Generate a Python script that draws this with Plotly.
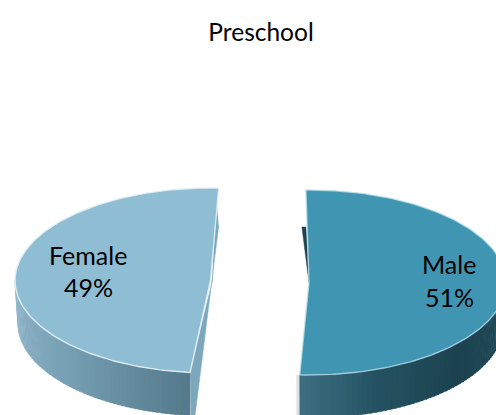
import numpy as np
import plotly.graph_objects as go

# Data
title_text = "Preschool"
categories = ["Male", "Female"]
values = [51, 49]

# Drawing style and layout of the exploded 3D pie (pixel-based scale)
W, H = 496, 415
FONT = "Lato"
START_ANGLE = -0.9          # first slice start, degrees clockwise from top
RY, DEPTH = 92.5, 43.0
radii_x = {"Male": 197.0, "Female": 195.5}
centers = {"Male": (309.0, 282.5), "Female": (210.5, 280.5)}
top_colors = {"Male": "#4095B3", "Female": "#8FBDD3"}
cut_colors = {"Male": "#1D4350", "Female": "#7DA8BC"}
edge_colors = {"Male": "rgba(190,225,235,0.75)", "Female": "rgba(228,240,245,0.9)"}
wall_stops = {
    "Male": [(0.0, (62, 112, 130)), (0.25, (36, 82, 98)), (0.55, (28, 66, 80)), (1.0, (34, 76, 90))],
    "Female": [(0.0, (146, 184, 203)), (0.55, (118, 158, 178)), (1.0, (84, 122, 140))],
}
label_pos = {"Male": (449, 264, 297), "Female": (88, 255, 287)}


def pt(name, deg, drop=0.0, shrink=1.0):
    cx, cy = centers[name]
    t = np.radians(deg)
    return cx + radii_x[name] * shrink * np.sin(t), cy - RY * np.cos(t) + drop


def wall_color(name, u):
    stops = wall_stops[name]
    for (u0, c0), (u1, c1) in zip(stops, stops[1:]):
        if u <= u1:
            f = (u - u0) / (u1 - u0)
            c = [round(a + (b - a) * f) for a, b in zip(c0, c1)]
            return f"rgb({c[0]},{c[1]},{c[2]})"
    return "rgb({},{},{})".format(*stops[-1][1])


fig = go.Figure()


def poly(xs, ys, color, line=None, width=0):
    fig.add_trace(go.Scatter(
        x=list(xs), y=list(ys), mode="lines", fill="toself", fillcolor=color,
        line=dict(color=line or color, width=width if line else 0.5),
        hoverinfo="skip", showlegend=False))


total = sum(values)
spans = {name: v / total * 360 for name, v in zip(categories, values)}
# Male runs clockwise from the start angle; Female takes the rest, shifted by its explosion
slices = {"Male": (START_ANGLE, START_ANGLE + spans["Male"]),
          "Female": (186.0, 186.0 + spans["Female"])}

for name in categories:
    a0, a1 = slices[name]
    cx, cy = centers[name]

    # cut face behind the top
    if name == "Male":
        x1, y1 = pt(name, a0)
        poly([cx, x1, x1 - 4, cx], [cy, y1 + 37, y1 + 37, cy], cut_colors[name])
        xb, yb = pt(name, a1)
        poly([xb, xb, xb - 3, xb - 3], [yb, yb + DEPTH, yb + DEPTH, yb], "rgba(200,205,208,0.6)")
    else:
        x1, y1 = pt(name, a1)
        xb, yb = pt(name, a0)
        poly([x1 - 3, cx + 2, xb, xb + 1, xb + 5, x1 + 0],
             [y1 + 1, cy, yb, yb + DEPTH, yb + DEPTH, y1 + 38], cut_colors[name])

    # outer wall as a run of thin shaded strips
    lo = max(a0, 90.0) if name == "Male" else a0
    hi = a1 if name == "Male" else min(a1, 270.0)
    edges = np.linspace(lo, hi, 61)
    for i in range(60):
        if name == "Male":
            u = (hi - edges[i]) / (hi - lo)
        else:
            u = 1 - (edges[i] - lo) / (hi - lo)
        seg = np.linspace(edges[i], min(edges[i + 1] + 0.4, hi), 4)
        tx, ty = zip(*[pt(name, a) for a in seg])
        bx, by = zip(*[pt(name, a, DEPTH, 0.985) for a in seg[::-1]])
        poly(tx + bx, ty + by, wall_color(name, u))

    # top face
    arc = np.linspace(a0, a1, 181)
    ax, ay = zip(*[pt(name, a) for a in arc])
    poly([cx, *ax, cx], [cy, *ay, cy], top_colors[name], edge_colors[name], 1.4)

    # labels
    lx, ly1, ly2 = label_pos[name]
    pct = f"{round(values[categories.index(name)] / total * 100)}%"
    for txt, ly in ((name, ly1), (pct, ly2)):
        fig.add_annotation(x=lx, y=ly, text=txt, showarrow=False,
                           font=dict(family=FONT, size=25, color="#000000"),
                           xanchor="center", yanchor="middle")

fig.update_layout(
    width=W, height=H, margin=dict(l=0, r=0, t=0, b=0), autosize=False,
    paper_bgcolor="white", plot_bgcolor="white", showlegend=False,
    title=dict(text=title_text, x=261 / W, y=1 - 32 / H, xanchor="center", yanchor="middle",
               font=dict(family=FONT, size=24.5, color="#000000")),
    xaxis=dict(range=[0, W], visible=False, fixedrange=True),
    yaxis=dict(range=[H, 0], visible=False, fixedrange=True),
)
fig.write_html("out.html", config={"displayModeBar": False},
               post_script="document.body.style.margin='0';document.documentElement.style.overflow='hidden';")
